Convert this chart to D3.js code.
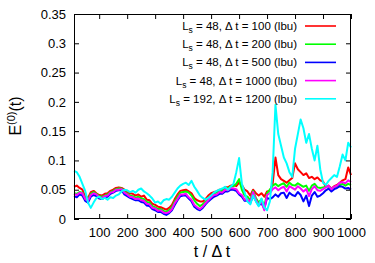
<!DOCTYPE html>
<html>
<head>
<meta charset="utf-8">
<script src="https://cdn.jsdelivr.net/npm/d3@7"></script>
<style>
  body { margin: 0; background: #fff; }
  svg { display: block; font-family: "Liberation Sans", Arial, sans-serif; }
</style>
</head>
<body>
<svg id="chart" width="375" height="263"></svg>
<script>
// sampled every 10 time steps, t = 10 ... 1000
var tSteps = d3.range(10, 1001, 10)

var red = [
  0.055,0.057,0.053,0.050,0.038,0.036,0.046,0.048,0.044,0.041,
  0.040,0.043,0.044,0.048,0.050,0.053,0.054,0.053,0.050,0.046,
  0.044,0.043,0.040,0.042,0.038,0.040,0.033,0.032,0.026,0.024,
  0.021,0.020,0.018,0.016,0.019,0.024,0.034,0.042,0.048,0.049,
  0.050,0.047,0.044,0.036,0.032,0.030,0.030,0.034,0.040,0.044,
  0.046,0.047,0.050,0.050,0.054,0.054,0.057,0.058,0.056,0.062,
  0.058,0.050,0.047,0.040,0.050,0.044,0.040,0.044,0.038,0.047,
  0.048,0.060,0.105,0.075,0.068,0.065,0.062,0.066,0.070,0.095,
  0.085,0.080,0.075,0.078,0.070,0.072,0.068,0.071,0.066,0.064,
  0.055,0.057,0.052,0.056,0.058,0.062,0.066,0.068,0.088,0.075
]
var green = [
  0.044,0.043,0.046,0.045,0.035,0.033,0.043,0.046,0.043,0.039,
  0.038,0.040,0.042,0.046,0.048,0.051,0.052,0.052,0.047,0.043,
  0.040,0.039,0.036,0.038,0.035,0.034,0.029,0.028,0.022,0.020,
  0.017,0.017,0.014,0.012,0.015,0.020,0.030,0.038,0.045,0.046,
  0.047,0.045,0.040,0.032,0.026,0.022,0.025,0.030,0.035,0.040,
  0.044,0.045,0.048,0.048,0.052,0.052,0.056,0.056,0.060,0.068,
  0.050,0.040,0.038,0.032,0.048,0.036,0.028,0.034,0.021,0.044,
  0.050,0.057,0.060,0.056,0.059,0.061,0.055,0.062,0.058,0.057,
  0.061,0.058,0.055,0.057,0.048,0.057,0.060,0.054,0.053,0.054,
  0.055,0.056,0.052,0.054,0.056,0.058,0.060,0.057,0.060,0.058
]
var blue = [
  0.039,0.037,0.042,0.040,0.031,0.028,0.038,0.041,0.039,0.035,
  0.034,0.037,0.038,0.043,0.045,0.048,0.049,0.049,0.042,0.039,
  0.036,0.034,0.032,0.032,0.029,0.028,0.023,0.022,0.017,0.015,
  0.012,0.012,0.009,0.007,0.010,0.015,0.024,0.032,0.039,0.040,
  0.040,0.035,0.030,0.021,0.017,0.015,0.019,0.025,0.030,0.034,
  0.038,0.040,0.043,0.043,0.047,0.047,0.050,0.050,0.048,0.042,
  0.038,0.031,0.031,0.027,0.040,0.031,0.023,0.027,0.018,0.036,
  0.034,0.037,0.042,0.038,0.044,0.045,0.036,0.045,0.041,0.039,
  0.046,0.041,0.030,0.040,0.022,0.040,0.046,0.038,0.040,0.044,
  0.049,0.052,0.047,0.051,0.053,0.056,0.055,0.052,0.053,0.050
]
var magenta = [
  0.043,0.041,0.045,0.044,0.034,0.031,0.041,0.044,0.042,0.037,
  0.036,0.039,0.040,0.045,0.046,0.050,0.050,0.051,0.045,0.042,
  0.038,0.037,0.034,0.035,0.032,0.031,0.026,0.025,0.019,0.018,
  0.014,0.015,0.011,0.010,0.012,0.017,0.027,0.034,0.042,0.042,
  0.043,0.037,0.033,0.024,0.020,0.017,0.021,0.027,0.032,0.037,
  0.041,0.042,0.046,0.045,0.050,0.049,0.053,0.052,0.051,0.044,
  0.041,0.033,0.034,0.028,0.046,0.033,0.024,0.031,0.015,0.041,
  0.044,0.051,0.054,0.049,0.053,0.055,0.047,0.056,0.053,0.050,
  0.056,0.052,0.047,0.051,0.039,0.051,0.056,0.049,0.048,0.051,
  0.054,0.057,0.051,0.055,0.057,0.062,0.063,0.061,0.066,0.063
]
var cyan = [
  0.082,0.080,0.072,0.060,0.048,0.028,0.019,0.028,0.036,0.038,
  0.034,0.036,0.033,0.037,0.036,0.040,0.042,0.047,0.050,0.049,
  0.046,0.048,0.045,0.050,0.052,0.047,0.044,0.040,0.035,0.028,
  0.030,0.026,0.032,0.034,0.033,0.038,0.045,0.052,0.057,0.060,
  0.062,0.058,0.065,0.055,0.048,0.040,0.036,0.033,0.036,0.040,
  0.045,0.048,0.050,0.052,0.055,0.050,0.055,0.060,0.080,0.104,
  0.060,0.045,0.030,0.025,0.040,0.030,0.022,0.035,0.020,0.015,
  0.030,0.080,0.195,0.145,0.125,0.105,0.095,0.080,0.072,0.120,
  0.145,0.170,0.155,0.130,0.145,0.120,0.100,0.125,0.085,0.062,
  0.058,0.065,0.070,0.075,0.072,0.090,0.110,0.100,0.130,0.122
]

var seriesNames = [
  ["48", "100"], ["48", "200"], ["48", "500"], ["48", "1000"], ["192", "1200"]
]
var seriesColors = ["#ff0000", "#00ff00", "#0000ff", "#ff00ff", "#00ffff"]
var seriesValues = [red, green, blue, magenta, cyan]

var xTicks = [100, 200, 300, 400, 500, 600, 700, 800, 900, 1000]
var yTicks = [0, 0.05, 0.1, 0.15, 0.2, 0.25, 0.3, 0.35]

var svg = d3.select("#chart")
var plotL = 74, plotR = 351, plotT = 14, plotB = 219

var x = d3.scaleLinear().domain([10, 1000]).range([plotL, plotR])
var y = d3.scaleLinear().domain([0, 0.35]).range([plotB, plotT])

// curves, drawn in legend order (cyan ends up on top)
var line = d3.line()
  .x(function(d, i) { return x(tSteps[i]) })
  .y(function(d) { return y(d) })

var plot = svg.append("g")
seriesValues.forEach(function(vals, k) {
  plot.append("path")
    .datum(vals)
    .attr("d", line)
    .attr("fill", "none")
    .attr("stroke", seriesColors[k])
    .attr("stroke-width", 2)
    .attr("stroke-linejoin", "round")
})

// ticks on all four sides, pointing inward
var tickLen = 5
var bottomAxis = d3.axisBottom(x).tickValues(xTicks).tickSize(-tickLen).tickPadding(9)
  .tickFormat(function(d) { return String(d) })
var topAxis = d3.axisTop(x).tickValues(xTicks).tickSize(-tickLen).tickFormat("")
var leftAxis = d3.axisLeft(y).tickValues(yTicks).tickSize(-tickLen).tickPadding(8)
  .tickFormat(function(d) { return String(+d.toFixed(2)) })
var rightAxis = d3.axisRight(y).tickValues(yTicks).tickSize(-tickLen).tickFormat("")

svg.append("g").attr("transform", "translate(0," + plotB + ")").call(bottomAxis)
svg.append("g").attr("transform", "translate(0," + plotT + ")").call(topAxis)
svg.append("g").attr("transform", "translate(" + plotL + ",0)").call(leftAxis)
svg.append("g").attr("transform", "translate(" + plotR + ",0)").call(rightAxis)

svg.selectAll(".domain").remove()
svg.selectAll(".tick line").attr("stroke", "#000").attr("stroke-width", 1)
svg.selectAll(".tick text").attr("font-size", 13).attr("fill", "#000")
  .attr("font-family", "Liberation Sans, Arial, sans-serif")

// frame
svg.append("rect")
  .attr("x", plotL + 0.5).attr("y", plotT + 0.5)
  .attr("width", plotR - plotL - 1).attr("height", plotB - plotT - 1)
  .attr("fill", "none").attr("stroke", "#000").attr("stroke-width", 1)

// legend
var legend = svg.append("g").attr("font-size", 11.5)
seriesNames.forEach(function(n, k) {
  var ly = 26 + k * 18.2
  var txt = legend.append("text")
    .attr("x", 297).attr("y", ly + 4)
    .attr("text-anchor", "end")
  txt.append("tspan").text("L")
  txt.append("tspan").attr("font-size", 8.5).attr("dy", 3).text("s")
  txt.append("tspan").attr("dy", -3).text(" = " + n[0] + ", \u0394 t = " + n[1] + " (lbu)")
  legend.append("line")
    .attr("x1", 305).attr("x2", 336)
    .attr("y1", ly).attr("y2", ly)
    .attr("stroke", seriesColors[k]).attr("stroke-width", 1.6)
})

// axis titles
svg.append("text")
  .attr("x", 212).attr("y", 257)
  .attr("text-anchor", "middle").attr("font-size", 16)
  .text("t / \u0394 t")

var ylab = svg.append("text")
  .attr("transform", "translate(21,116) rotate(-90)")
  .attr("text-anchor", "middle").attr("font-size", 16)
ylab.append("tspan").text("E")
ylab.append("tspan").attr("font-size", 11).attr("dy", -6).text("(0)")
ylab.append("tspan").attr("dy", 6).text("(t)")
</script>
</body>
</html>
